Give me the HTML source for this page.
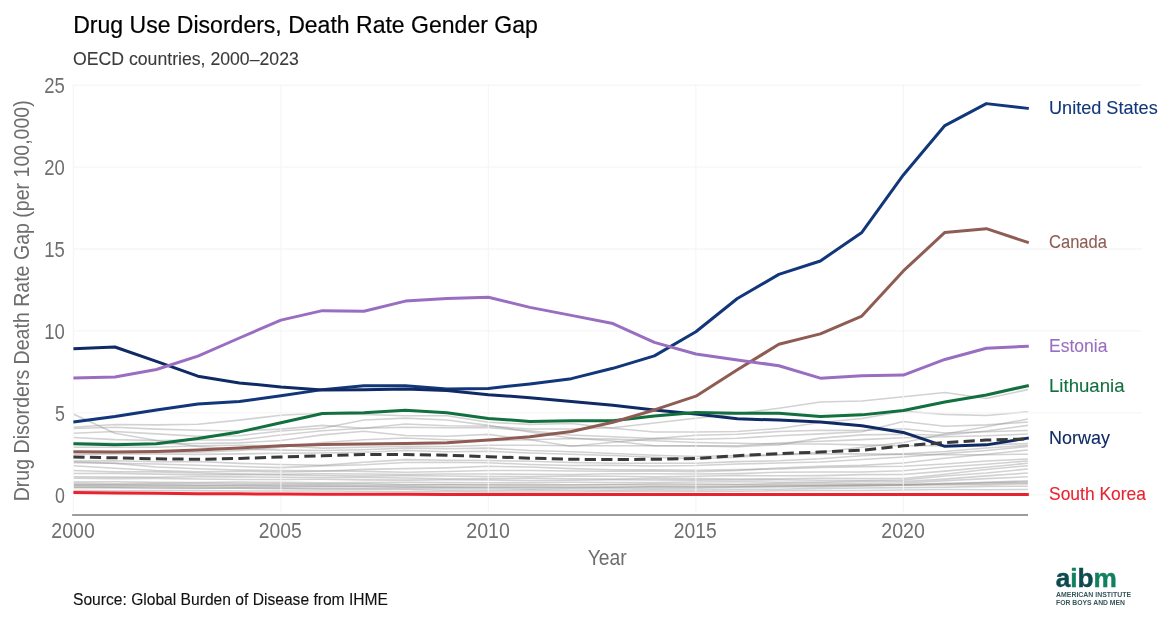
<!DOCTYPE html>
<html lang="en"><head><meta charset="utf-8"><title>Drug Use Disorders, Death Rate Gender Gap</title>
<style>html,body{margin:0;padding:0;background:#fff}svg{display:block}text{font-family:"Liberation Sans",sans-serif}</style></head><body>
<svg width="1171" height="623" viewBox="0 0 1171 623">
<rect width="1171" height="623" fill="#fff"/>
<g fill="none" stroke="#8f8f8f" stroke-opacity="0.40" stroke-width="1.55" stroke-linejoin="round">
<path d="M73.40,427.32 L114.90,424.54 L156.40,424.86 L197.89,424.21 L239.39,420.11 L280.89,415.19 L322.39,412.90 L363.88,414.54 L405.38,415.69 L446.88,415.69 L488.38,422.24 L529.88,424.37 L571.37,423.55 L612.87,428.31 L654.37,431.91 L695.87,432.08 L737.37,431.58 L778.86,428.47 L820.36,422.57 L861.86,418.47 L903.36,411.26 L944.85,414.38 L986.35,415.52 L1027.85,411.75"/>
<path d="M73.40,414.05 L114.90,433.22 L156.40,440.44 L197.89,446.50 L239.39,448.96 L280.89,450.11 L322.39,450.60 L363.88,449.78 L405.38,448.14 L446.88,448.79 L488.38,448.14 L529.88,450.60 L571.37,451.74 L612.87,453.55 L654.37,455.35 L695.87,456.50 L737.37,455.51 L778.86,454.69 L820.36,453.88 L861.86,453.88 L903.36,454.37 L944.85,454.69 L986.35,454.69 L1027.85,454.20"/>
<path d="M73.40,428.47 L114.90,427.32 L156.40,429.13 L197.89,430.27 L239.39,430.93 L280.89,429.13 L322.39,425.36 L363.88,428.31 L405.38,427.16 L446.88,427.65 L488.38,427.65 L529.88,430.77 L571.37,435.03 L612.87,436.83 L654.37,438.63 L695.87,435.19 L737.37,434.21 L778.86,431.58 L820.36,430.27 L861.86,430.60 L903.36,428.80 L944.85,433.06 L986.35,431.75 L1027.85,430.44"/>
<path d="M73.40,433.22 L114.90,431.42 L156.40,433.88 L197.89,436.17 L239.39,435.68 L280.89,430.93 L322.39,428.31 L363.88,419.95 L405.38,418.14 L446.88,419.95 L488.38,425.36 L529.88,431.91 L571.37,437.98 L612.87,440.93 L654.37,445.68 L695.87,446.01 L737.37,446.66 L778.86,444.86 L820.36,438.14 L861.86,434.86 L903.36,434.21 L944.85,435.35 L986.35,430.93 L1027.85,425.36"/>
<path d="M73.40,437.49 L114.90,439.62 L156.40,440.44 L197.89,439.94 L239.39,439.94 L280.89,435.03 L322.39,430.77 L363.88,428.31 L405.38,424.05 L446.88,425.85 L488.38,426.18 L529.88,428.96 L571.37,428.96 L612.87,427.65 L654.37,422.90 L695.87,418.31 L737.37,413.72 L778.86,408.15 L820.36,402.08 L861.86,401.10 L903.36,396.84 L944.85,392.58 L986.35,398.48 L1027.85,389.63"/>
<path d="M73.40,442.40 L114.90,443.22 L156.40,443.71 L197.89,443.55 L239.39,442.89 L280.89,440.60 L322.39,434.86 L363.88,431.26 L405.38,435.52 L446.88,436.17 L488.38,434.37 L529.88,439.78 L571.37,446.34 L612.87,442.24 L654.37,438.63 L695.87,439.29 L737.37,438.30 L778.86,435.68 L820.36,433.88 L861.86,431.75 L903.36,421.59 L944.85,426.34 L986.35,424.86 L1027.85,422.08"/>
<path d="M73.40,447.32 L114.90,447.32 L156.40,447.32 L197.89,445.68 L239.39,445.35 L280.89,445.68 L322.39,448.14 L363.88,447.32 L405.38,446.34 L446.88,446.50 L488.38,445.19 L529.88,445.19 L571.37,445.68 L612.87,445.68 L654.37,445.68 L695.87,445.68 L737.37,445.68 L778.86,443.06 L820.36,441.25 L861.86,439.62 L903.36,437.81 L944.85,436.67 L986.35,435.85 L1027.85,434.04"/>
<path d="M73.40,454.37 L114.90,453.88 L156.40,453.88 L197.89,454.37 L239.39,453.88 L280.89,453.22 L322.39,453.06 L363.88,452.24 L405.38,450.60 L446.88,451.74 L488.38,451.25 L529.88,453.06 L571.37,454.20 L612.87,455.51 L654.37,457.15 L695.87,458.79 L737.37,457.15 L778.86,454.69 L820.36,452.24 L861.86,447.32 L903.36,442.57 L944.85,434.04 L986.35,426.83 L1027.85,418.96"/>
<path d="M73.40,452.24 L114.90,452.24 L156.40,452.24 L197.89,452.24 L239.39,450.60 L280.89,447.32 L322.39,442.40 L363.88,439.78 L405.38,437.98 L446.88,439.78 L488.38,440.76 L529.88,439.78 L571.37,438.47 L612.87,439.12 L654.37,440.76 L695.87,442.40 L737.37,443.22 L778.86,444.04 L820.36,444.04 L861.86,444.86 L903.36,445.68 L944.85,445.68 L986.35,444.86 L1027.85,443.55"/>
<path d="M73.40,460.92 L114.90,460.84 L156.40,461.79 L197.89,461.58 L239.39,463.38 L280.89,464.53 L322.39,465.18 L363.88,462.33 L405.38,459.61 L446.88,460.28 L488.38,460.59 L529.88,461.28 L571.37,462.56 L612.87,463.17 L654.37,463.25 L695.87,463.22 L737.37,461.61 L778.86,460.76 L820.36,458.79 L861.86,455.84 L903.36,453.88 L944.85,451.50 L986.35,447.96 L1027.85,445.35"/>
<path d="M73.40,461.74 L114.90,463.38 L156.40,466.99 L197.89,468.79 L239.39,469.92 L280.89,470.59 L322.39,470.81 L363.88,471.36 L405.38,472.23 L446.88,471.54 L488.38,470.43 L529.88,470.58 L571.37,470.92 L612.87,471.17 L654.37,470.99 L695.87,471.74 L737.37,470.45 L778.86,468.00 L820.36,466.15 L861.86,465.15 L903.36,463.05 L944.85,458.25 L986.35,454.15 L1027.85,449.94"/>
<path d="M73.40,462.73 L114.90,463.18 L156.40,464.07 L197.89,465.18 L239.39,466.59 L280.89,467.64 L322.39,465.89 L363.88,464.74 L405.38,462.56 L446.88,462.17 L488.38,462.73 L529.88,464.54 L571.37,465.51 L612.87,465.17 L654.37,465.91 L695.87,465.51 L737.37,463.91 L778.86,463.09 L820.36,462.07 L861.86,459.53 L903.36,456.99 L944.85,453.61 L986.35,450.45 L1027.85,446.50"/>
<path d="M73.40,465.84 L114.90,468.20 L156.40,470.59 L197.89,471.74 L239.39,471.36 L280.89,471.90 L322.39,471.22 L363.88,469.38 L405.38,468.63 L446.88,467.89 L488.38,466.33 L529.88,467.00 L571.37,468.63 L612.87,469.66 L654.37,469.67 L695.87,470.27 L737.37,469.61 L778.86,469.07 L820.36,467.53 L861.86,466.63 L903.36,466.17 L944.85,464.04 L986.35,460.92 L1027.85,458.96"/>
<path d="M73.40,470.59 L114.90,471.79 L156.40,471.87 L197.89,473.05 L239.39,474.03 L280.89,474.20 L322.39,473.72 L363.88,474.08 L405.38,474.56 L446.88,473.99 L488.38,474.03 L529.88,474.21 L571.37,474.43 L612.87,473.74 L654.37,473.72 L695.87,474.03 L737.37,473.61 L778.86,472.28 L820.36,471.95 L861.86,471.90 L903.36,470.76 L944.85,466.99 L986.35,464.33 L1027.85,460.92"/>
<path d="M73.40,473.54 L114.90,473.38 L156.40,474.13 L197.89,474.87 L239.39,474.61 L280.89,475.02 L322.39,475.53 L363.88,475.95 L405.38,475.61 L446.88,475.94 L488.38,476.49 L529.88,476.64 L571.37,476.02 L612.87,476.33 L654.37,476.79 L695.87,476.33 L737.37,475.54 L778.86,475.76 L820.36,475.64 L861.86,474.62 L903.36,474.53 L944.85,471.13 L986.35,467.25 L1027.85,463.22"/>
<path d="M73.40,476.82 L114.90,477.12 L156.40,477.26 L197.89,476.71 L239.39,476.85 L280.89,477.15 L322.39,477.57 L363.88,477.35 L405.38,478.00 L446.88,478.72 L488.38,478.62 L529.88,478.25 L571.37,478.79 L612.87,478.95 L654.37,478.38 L695.87,478.62 L737.37,478.92 L778.86,478.74 L820.36,478.16 L861.86,478.41 L903.36,478.46 L944.85,474.18 L986.35,469.45 L1027.85,465.68"/>
<path d="M73.40,478.30 L114.90,478.62 L156.40,478.36 L197.89,478.98 L239.39,479.59 L280.89,479.44 L322.39,479.23 L363.88,479.89 L405.38,480.13 L446.88,479.71 L488.38,480.10 L529.88,480.41 L571.37,480.25 L612.87,479.74 L654.37,480.05 L695.87,480.10 L737.37,480.05 L778.86,479.74 L820.36,480.23 L861.86,480.43 L903.36,480.10 L944.85,476.08 L986.35,473.03 L1027.85,468.95"/>
<path d="M73.40,482.07 L114.90,481.84 L156.40,482.39 L197.89,482.51 L239.39,482.07 L280.89,482.39 L322.39,482.75 L363.88,482.62 L405.38,482.26 L446.88,482.64 L488.38,482.72 L529.88,482.52 L571.37,482.15 L612.87,482.48 L654.37,482.48 L695.87,482.07 L737.37,481.74 L778.86,482.15 L820.36,481.92 L861.86,481.34 L903.36,481.57 L944.85,479.12 L986.35,475.87 L1027.85,473.05"/>
<path d="M73.40,483.38 L114.90,483.74 L156.40,483.59 L197.89,483.26 L239.39,483.64 L280.89,483.70 L322.39,483.82 L363.88,483.82 L405.38,484.46 L446.88,484.74 L488.38,484.69 L529.88,484.38 L571.37,484.69 L612.87,484.41 L654.37,483.87 L695.87,484.03 L737.37,484.15 L778.86,483.59 L820.36,483.13 L861.86,483.36 L903.36,483.05 L944.85,480.75 L986.35,478.62 L1027.85,476.82"/>
<path d="M73.40,484.69 L114.90,484.66 L156.40,484.56 L197.89,485.07 L239.39,485.16 L280.89,485.02 L322.39,484.85 L363.88,485.28 L405.38,485.10 L446.88,484.72 L488.38,485.02 L529.88,485.31 L571.37,484.95 L612.87,484.74 L654.37,485.15 L695.87,485.02 L737.37,484.72 L778.86,484.62 L820.36,484.97 L861.86,484.75 L903.36,484.52 L944.85,483.21 L986.35,482.34 L1027.85,480.75"/>
<path d="M73.40,485.02 L114.90,485.02 L156.40,485.56 L197.89,485.47 L239.39,485.26 L280.89,485.67 L322.39,486.28 L363.88,486.25 L405.38,486.41 L446.88,487.13 L488.38,487.31 L529.88,486.98 L571.37,486.90 L612.87,487.15 L654.37,486.88 L695.87,486.66 L737.37,486.23 L778.86,486.15 L820.36,485.43 L861.86,484.80 L903.36,484.69 L944.85,483.98 L986.35,482.52 L1027.85,481.74"/>
<path d="M73.40,486.00 L114.90,486.39 L156.40,486.16 L197.89,486.15 L239.39,486.69 L280.89,486.66 L322.39,486.57 L363.88,486.79 L405.38,487.29 L446.88,487.26 L488.38,487.31 L529.88,487.25 L571.37,487.44 L612.87,487.05 L654.37,486.80 L695.87,486.98 L737.37,486.80 L778.86,486.00 L820.36,485.62 L861.86,485.66 L903.36,485.02 L944.85,483.97 L986.35,483.43 L1027.85,482.72"/>
<path d="M73.40,487.31 L114.90,487.23 L156.40,487.46 L197.89,487.95 L239.39,487.88 L280.89,487.97 L322.39,488.15 L363.88,488.54 L405.38,488.38 L446.88,488.41 L488.38,488.79 L529.88,488.87 L571.37,488.41 L612.87,488.36 L654.37,488.61 L695.87,488.29 L737.37,487.46 L778.86,487.08 L820.36,486.80 L861.86,485.88 L903.36,485.34 L944.85,484.97 L986.35,484.62 L1027.85,483.87"/>
<path d="M73.40,487.64 L114.90,487.87 L156.40,488.28 L197.89,488.13 L239.39,488.21 L280.89,488.62 L322.39,489.15 L363.88,489.16 L405.38,489.59 L446.88,490.26 L488.38,490.42 L529.88,490.11 L571.37,490.23 L612.87,490.34 L654.37,489.98 L695.87,489.93 L737.37,489.59 L778.86,489.21 L820.36,488.39 L861.86,487.93 L903.36,487.64 L944.85,487.26 L986.35,486.39 L1027.85,486.16"/>
<path d="M73.40,490.42 L114.90,490.65 L156.40,490.44 L197.89,490.64 L239.39,491.01 L280.89,490.92 L322.39,490.92 L363.88,491.33 L405.38,491.70 L446.88,491.64 L488.38,491.90 L529.88,491.95 L571.37,491.92 L612.87,491.56 L654.37,491.52 L695.87,491.57 L737.37,491.31 L778.86,490.72 L820.36,490.57 L861.86,490.47 L903.36,489.93 L944.85,489.56 L986.35,489.70 L1027.85,489.44"/>
</g>
<g stroke="#f4f4f4" stroke-width="1.3" stroke-opacity="0.8" fill="none">
<line x1="73.4" x2="1142" y1="494.85" y2="494.85"/>
<line x1="73.4" x2="1142" y1="412.90" y2="412.90"/>
<line x1="73.4" x2="1142" y1="330.95" y2="330.95"/>
<line x1="73.4" x2="1142" y1="249.00" y2="249.00"/>
<line x1="73.4" x2="1142" y1="167.05" y2="167.05"/>
<line x1="73.4" x2="1142" y1="85.10" y2="85.10"/>
<line x1="73.40" x2="73.40" y1="84.40" y2="512.6"/>
<line x1="280.89" x2="280.89" y1="84.40" y2="512.6"/>
<line x1="488.38" x2="488.38" y1="84.40" y2="512.6"/>
<line x1="695.87" x2="695.87" y1="84.40" y2="512.6"/>
<line x1="903.36" x2="903.36" y1="84.40" y2="512.6"/>
</g>
<path d="M73.40,421.91 L114.90,416.51 L156.40,409.95 L197.89,404.05 L239.39,401.59 L280.89,395.69 L322.39,389.63 L363.88,385.69 L405.38,385.69 L446.88,388.97 L488.38,388.48 L529.88,383.89 L571.37,378.64 L612.87,368.32 L654.37,355.86 L695.87,331.77 L737.37,298.50 L778.86,274.40 L820.36,260.96 L861.86,232.45 L903.36,174.92 L944.85,125.58 L986.35,103.62 L1027.85,108.37 L1028.79,108.48" fill="none" stroke="#11367a" stroke-width="3.0" stroke-linejoin="round" />
<path d="M73.40,492.56 L114.90,493.05 L156.40,493.37 L197.89,493.70 L239.39,493.87 L280.89,494.03 L322.39,494.19 L363.88,494.36 L405.38,494.36 L446.88,494.52 L488.38,494.52 L529.88,494.52 L571.37,494.52 L612.87,494.52 L654.37,494.52 L695.87,494.52 L737.37,494.52 L778.86,494.52 L820.36,494.52 L861.86,494.52 L903.36,494.52 L944.85,494.52 L986.35,494.52 L1027.85,494.52 L1028.80,494.52" fill="none" stroke="#e8232f" stroke-width="3.0" stroke-linejoin="round" />
<path d="M73.40,348.82 L114.90,347.01 L156.40,361.44 L197.89,376.19 L239.39,382.91 L280.89,387.00 L322.39,390.12 L363.88,389.63 L405.38,388.97 L446.88,390.61 L488.38,394.71 L529.88,397.66 L571.37,401.59 L612.87,405.36 L654.37,409.95 L695.87,414.05 L737.37,418.80 L778.86,420.11 L820.36,422.08 L861.86,425.68 L903.36,432.40 L944.85,446.34 L986.35,444.86 L1027.85,438.14 L1028.79,437.99" fill="none" stroke="#0f2a64" stroke-width="3.0" stroke-linejoin="round" />
<path d="M73.40,443.71 L114.90,444.86 L156.40,443.71 L197.89,438.47 L239.39,431.91 L280.89,422.73 L322.39,413.56 L363.88,412.74 L405.38,410.28 L446.88,412.74 L488.38,418.47 L529.88,421.42 L571.37,420.77 L612.87,420.77 L654.37,416.01 L695.87,412.57 L737.37,413.23 L778.86,413.23 L820.36,416.51 L861.86,414.87 L903.36,410.44 L944.85,402.08 L986.35,395.03 L1027.85,385.69 L1028.78,385.48" fill="none" stroke="#12703f" stroke-width="3.0" stroke-linejoin="round" />
<path d="M73.40,451.74 L114.90,451.91 L156.40,451.42 L197.89,450.11 L239.39,447.97 L280.89,445.68 L322.39,444.53 L363.88,444.04 L405.38,443.55 L446.88,442.73 L488.38,440.11 L529.88,436.83 L571.37,431.42 L612.87,422.24 L654.37,409.95 L695.87,396.18 L737.37,369.79 L778.86,344.23 L820.36,333.90 L861.86,316.04 L903.36,270.96 L944.85,232.45 L986.35,228.68 L1027.85,242.44 L1028.75,242.74" fill="none" stroke="#8f5c53" stroke-width="3.0" stroke-linejoin="round" />
<path d="M73.40,377.99 L114.90,377.01 L156.40,369.47 L197.89,356.19 L239.39,338.00 L280.89,320.13 L322.39,310.63 L363.88,311.28 L405.38,301.12 L446.88,298.50 L488.38,297.19 L529.88,307.35 L571.37,315.38 L612.87,323.57 L654.37,342.42 L695.87,354.06 L737.37,359.96 L778.86,365.70 L820.36,378.15 L861.86,375.86 L903.36,375.04 L944.85,359.47 L986.35,348.32 L1027.85,346.19 L1028.80,346.14" fill="none" stroke="#996ec1" stroke-width="3.0" stroke-linejoin="round" />
<path d="M73.40,456.99 L114.90,457.81 L156.40,458.79 L197.89,459.28 L239.39,458.46 L280.89,456.99 L322.39,455.84 L363.88,454.53 L405.38,454.53 L446.88,455.19 L488.38,456.66 L529.88,458.14 L571.37,459.28 L612.87,459.61 L654.37,459.28 L695.87,458.46 L737.37,455.68 L778.86,453.55 L820.36,452.07 L861.86,450.27 L903.36,445.84 L944.85,442.57 L986.35,440.11 L1027.85,438.96" fill="none" stroke="#3a3a3a" stroke-width="3.0" stroke-linejoin="round" stroke-dasharray="11.2 5.3"/>
<line x1="72.1" x2="1028.0" y1="515" y2="515" stroke="#7b7b7b" stroke-width="1.7"/>
<text x="73.2" y="32.6" font-size="24.6" fill="#000" stroke="#000" stroke-width="0.2" text-anchor="start" textLength="464.6" lengthAdjust="spacingAndGlyphs" >Drug Use Disorders, Death Rate Gender Gap</text>
<text x="73" y="65.35" font-size="19.05" fill="#3a3a3a" stroke="#3a3a3a" stroke-width="0.1" text-anchor="start" textLength="225.8" lengthAdjust="spacingAndGlyphs" >OECD countries, 2000–2023</text>
<text x="64.9" y="502.8" font-size="22.3" fill="#6e6e6e" stroke="#6e6e6e" stroke-width="0" text-anchor="end" textLength="9.9" lengthAdjust="spacingAndGlyphs" >0</text>
<text x="64.9" y="420.8" font-size="22.3" fill="#6e6e6e" stroke="#6e6e6e" stroke-width="0" text-anchor="end" textLength="9.9" lengthAdjust="spacingAndGlyphs" >5</text>
<text x="64.9" y="338.9" font-size="22.3" fill="#6e6e6e" stroke="#6e6e6e" stroke-width="0" text-anchor="end" textLength="20.6" lengthAdjust="spacingAndGlyphs" >10</text>
<text x="64.9" y="256.9" font-size="22.3" fill="#6e6e6e" stroke="#6e6e6e" stroke-width="0" text-anchor="end" textLength="20.6" lengthAdjust="spacingAndGlyphs" >15</text>
<text x="64.9" y="175.0" font-size="22.3" fill="#6e6e6e" stroke="#6e6e6e" stroke-width="0" text-anchor="end" textLength="20.6" lengthAdjust="spacingAndGlyphs" >20</text>
<text x="64.9" y="93.0" font-size="22.3" fill="#6e6e6e" stroke="#6e6e6e" stroke-width="0" text-anchor="end" textLength="20.6" lengthAdjust="spacingAndGlyphs" >25</text>
<text x="73.10" y="537.9" font-size="22.3" fill="#6e6e6e" stroke="#6e6e6e" stroke-width="0" text-anchor="middle" textLength="43.6" lengthAdjust="spacingAndGlyphs" >2000</text>
<text x="280.24" y="537.9" font-size="22.3" fill="#6e6e6e" stroke="#6e6e6e" stroke-width="0" text-anchor="middle" textLength="42.9" lengthAdjust="spacingAndGlyphs" >2005</text>
<text x="488.08" y="537.9" font-size="22.3" fill="#6e6e6e" stroke="#6e6e6e" stroke-width="0" text-anchor="middle" textLength="43.6" lengthAdjust="spacingAndGlyphs" >2010</text>
<text x="695.22" y="537.9" font-size="22.3" fill="#6e6e6e" stroke="#6e6e6e" stroke-width="0" text-anchor="middle" textLength="42.9" lengthAdjust="spacingAndGlyphs" >2015</text>
<text x="903.06" y="537.9" font-size="22.3" fill="#6e6e6e" stroke="#6e6e6e" stroke-width="0" text-anchor="middle" textLength="43.6" lengthAdjust="spacingAndGlyphs" >2020</text>
<text x="607.2" y="565" font-size="21.2" fill="#6e6e6e" stroke="#6e6e6e" stroke-width="0" text-anchor="middle" textLength="39" lengthAdjust="spacingAndGlyphs" >Year</text>
<text transform="translate(28.7,300.8) rotate(-90)" font-size="21.2" fill="#6e6e6e" text-anchor="middle" textLength="401" lengthAdjust="spacingAndGlyphs">Drug Disorders Death Rate Gap (per 100,000)</text>
<text x="73" y="604.9" font-size="16.67" fill="#111" stroke="#111" stroke-width="0.12" text-anchor="start" textLength="315" lengthAdjust="spacingAndGlyphs" >Source: Global Burden of Disease from IHME</text>
<text x="1049.0" y="113.6" font-size="19.0" fill="#11367a" stroke="#11367a" stroke-width="0.1" text-anchor="start" textLength="108.7" lengthAdjust="spacingAndGlyphs" >United States</text>
<text x="1049.0" y="247.75" font-size="19.0" fill="#8f5c53" stroke="#8f5c53" stroke-width="0.1" text-anchor="start" textLength="58" lengthAdjust="spacingAndGlyphs" >Canada</text>
<text x="1049.0" y="352.0" font-size="19.0" fill="#996ec1" stroke="#996ec1" stroke-width="0.1" text-anchor="start" textLength="58.5" lengthAdjust="spacingAndGlyphs" >Estonia</text>
<text x="1049.0" y="391.9" font-size="19.0" fill="#12703f" stroke="#12703f" stroke-width="0.1" text-anchor="start" textLength="75.5" lengthAdjust="spacingAndGlyphs" >Lithuania</text>
<text x="1049.0" y="443.6" font-size="19.0" fill="#0f2a64" stroke="#0f2a64" stroke-width="0.1" text-anchor="start" textLength="60.9" lengthAdjust="spacingAndGlyphs" >Norway</text>
<text x="1049.0" y="499.6" font-size="19.0" fill="#e8232f" stroke="#e8232f" stroke-width="0.1" text-anchor="start" textLength="97" lengthAdjust="spacingAndGlyphs" >South Korea</text>
<g font-weight="bold">
<text x="1055.7" y="587.3" font-size="26" textLength="61.2" lengthAdjust="spacingAndGlyphs" stroke-width="0.45" paint-order="stroke"><tspan fill="#0c4a50" stroke="#0c4a50">a</tspan><tspan fill="#11805f" stroke="#11805f">i</tspan><tspan fill="#0c4a50" stroke="#0c4a50">b</tspan><tspan fill="#11805f" stroke="#11805f">m</tspan></text>
<g transform="translate(1056,596.6) scale(0.5)"><text x="0" y="0" font-size="13.4" fill="#35565a" textLength="150" lengthAdjust="spacingAndGlyphs">AMERICAN INSTITUTE</text></g>
<g transform="translate(1056,604.8) scale(0.5)"><text x="0" y="0" font-size="13.4" fill="#35565a" textLength="138" lengthAdjust="spacingAndGlyphs">FOR BOYS AND MEN</text></g>
</g>
</svg></body></html>
